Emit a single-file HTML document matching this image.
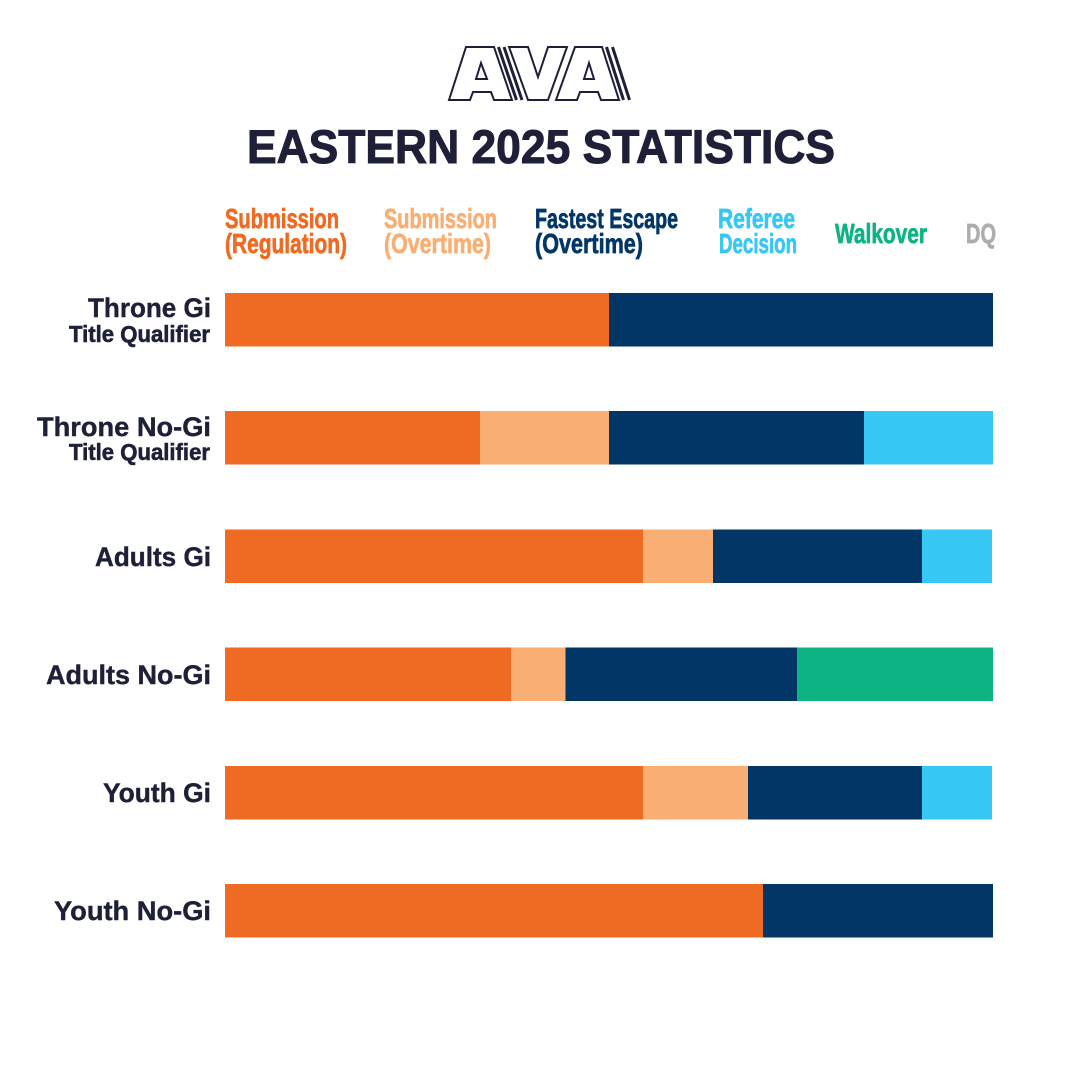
<!DOCTYPE html>
<html>
<head>
<meta charset="utf-8">
<style>
html,body{margin:0;padding:0;background:#fff;}
svg{display:block;}
</style>
</head>
<body>
<svg width="1080" height="1081" viewBox="0 0 1080 1081" xmlns="http://www.w3.org/2000/svg">
<rect width="1080" height="1081" fill="#ffffff"/>

<!-- Logo -->
<g fill="none" stroke="#1E2038" stroke-width="2" stroke-linejoin="miter">
  <polygon points="466,47 494,47 512,100 494,100 491,92 473,92 470,100 449,100"/>
  <polygon points="481,63 476,79 487,79"/>
  <polygon points="509,47 528,47 538,77 548,47 567,47 548,100 528,100"/>
  <polygon points="575,47 602,47 619,100 601,100 598,92 580,92 577,100 556,100"/>
  <polygon points="589,63 584,79 594,79"/>
</g>
<g stroke="#1E2038" stroke-width="3">
  <line x1="498.5" y1="47" x2="516.5" y2="100"/>
  <line x1="504" y1="47" x2="522" y2="100"/>
  <line x1="606.5" y1="47" x2="623.5" y2="100"/>
  <line x1="612.5" y1="47" x2="629.5" y2="100"/>
</g>

<!-- Title -->
<text x="247" y="163" font-family="Liberation Sans, sans-serif" font-weight="bold" font-size="47" fill="#1E2038" stroke="#1E2038" stroke-width="1" textLength="588" lengthAdjust="spacingAndGlyphs">EASTERN 2025 STATISTICS</text>

<!-- Legend -->
<g font-family="Liberation Sans, sans-serif" font-weight="bold" font-size="28" stroke-width="0.7">
  <text x="225" y="228" fill="#EF6A22" stroke="#EF6A22" textLength="114" lengthAdjust="spacingAndGlyphs">Submission</text>
  <text x="225" y="253" fill="#EF6A22" stroke="#EF6A22" textLength="122" lengthAdjust="spacingAndGlyphs">(Regulation)</text>
  <text x="384" y="228" fill="#F9AF74" stroke="#F9AF74" textLength="113" lengthAdjust="spacingAndGlyphs">Submission</text>
  <text x="384" y="253" fill="#F9AF74" stroke="#F9AF74" textLength="107" lengthAdjust="spacingAndGlyphs">(Overtime)</text>
  <text x="535" y="228" fill="#023667" stroke="#023667" textLength="143" lengthAdjust="spacingAndGlyphs">Fastest Escape</text>
  <text x="535" y="253" fill="#023667" stroke="#023667" textLength="108" lengthAdjust="spacingAndGlyphs">(Overtime)</text>
  <text x="718" y="228" fill="#36C7F4" stroke="#36C7F4" textLength="77" lengthAdjust="spacingAndGlyphs">Referee</text>
  <text x="719" y="253" fill="#36C7F4" stroke="#36C7F4" textLength="78" lengthAdjust="spacingAndGlyphs">Decision</text>
  <text x="835" y="243" fill="#0EB384" stroke="#0EB384" textLength="92" lengthAdjust="spacingAndGlyphs">Walkover</text>
  <text x="966" y="243" fill="#ADADAD" stroke="#ADADAD" textLength="30" lengthAdjust="spacingAndGlyphs">DQ</text>
</g>

<!-- Row labels -->
<g font-family="Liberation Sans, sans-serif" font-weight="bold" fill="#1E2038" stroke="#1E2038" stroke-width="0.4" text-anchor="end">
  <text x="211" y="317" font-size="27" textLength="123" lengthAdjust="spacingAndGlyphs">Throne Gi</text>
  <text x="210" y="342" font-size="23" stroke-width="0.6" textLength="141" lengthAdjust="spacingAndGlyphs">Title Qualifier</text>
  <text x="211" y="436" font-size="27" textLength="174" lengthAdjust="spacingAndGlyphs">Throne No-Gi</text>
  <text x="210" y="460" font-size="23" stroke-width="0.6" textLength="141" lengthAdjust="spacingAndGlyphs">Title Qualifier</text>
  <text x="211" y="566" font-size="27" textLength="116" lengthAdjust="spacingAndGlyphs">Adults Gi</text>
  <text x="211" y="684" font-size="27" textLength="165" lengthAdjust="spacingAndGlyphs">Adults No-Gi</text>
  <text x="211" y="802" font-size="27" textLength="108" lengthAdjust="spacingAndGlyphs">Youth Gi</text>
  <text x="211" y="920" font-size="27" textLength="157" lengthAdjust="spacingAndGlyphs">Youth No-Gi</text>
</g>

<!-- Bars -->
<rect x="225" y="293" width="384" height="53.5" fill="#EF6A22"/>
<rect x="609" y="293" width="384" height="53.5" fill="#023667"/>

<rect x="225" y="411" width="255" height="53.5" fill="#EF6A22"/>
<rect x="480" y="411" width="129" height="53.5" fill="#F9AF74"/>
<rect x="609" y="411" width="255" height="53.5" fill="#023667"/>
<rect x="864" y="411" width="129" height="53.5" fill="#36C7F4"/>

<rect x="225" y="529.5" width="418" height="53.5" fill="#EF6A22"/>
<rect x="643" y="529.5" width="70" height="53.5" fill="#F9AF74"/>
<rect x="713" y="529.5" width="209" height="53.5" fill="#023667"/>
<rect x="922" y="529.5" width="70" height="53.5" fill="#36C7F4"/>

<rect x="225" y="647.5" width="286" height="53.5" fill="#EF6A22"/>
<rect x="511" y="647.5" width="54.5" height="53.5" fill="#F9AF74"/>
<rect x="565.5" y="647.5" width="231.5" height="53.5" fill="#023667"/>
<rect x="797" y="647.5" width="196" height="53.5" fill="#0EB384"/>

<rect x="225" y="766" width="418" height="53.5" fill="#EF6A22"/>
<rect x="643" y="766" width="105" height="53.5" fill="#F9AF74"/>
<rect x="748" y="766" width="174" height="53.5" fill="#023667"/>
<rect x="922" y="766" width="70" height="53.5" fill="#36C7F4"/>

<rect x="225" y="884" width="538" height="53.5" fill="#EF6A22"/>
<rect x="763" y="884" width="230" height="53.5" fill="#023667"/>
</svg>
</body>
</html>
